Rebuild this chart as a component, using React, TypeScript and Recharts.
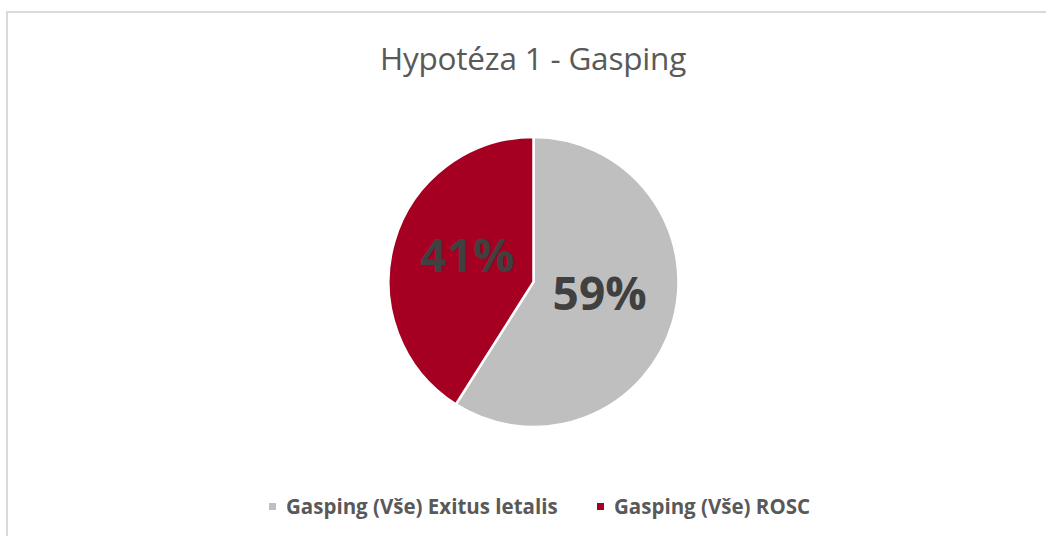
import React from 'react';
import { PieChart, Pie, Cell, Legend } from 'recharts';

const categories = ['Gasping (Vše) Exitus letalis', 'Gasping (Vše) ROSC'];
const values = [59, 41];
const colors = ['#bfbfbf', '#a50021'];
const title = 'Hypotéza 1 - Gasping';

const data = categories.map((name, i) => ({ name, value: values[i] }));

const RAD = Math.PI / 180;
const renderLabel = (props: any) => {
  const { cx, cy, midAngle, outerRadius, percent } = props;
  const r = outerRadius * 0.475;
  const x = cx + r * Math.cos(-midAngle * RAD);
  const y = cy + r * Math.sin(-midAngle * RAD) - 9;
  return (
    <text
      x={x}
      y={y}
      fill="#404040"
      textAnchor="middle"
      dominantBaseline="central"
      style={{ fontFamily: 'Open Sans', fontWeight: 700, fontSize: 46 }}
    >
      {`${Math.round(percent * 100)}%`}
    </text>
  );
};

const renderLegend = () => (
  <div style={{ display: 'flex', alignItems: 'center', fontFamily: 'Open Sans', fontWeight: 700, fontSize: 20.5, color: '#595959', lineHeight: '28px' }}>
    {data.map((d, i) => (
      <div key={d.name} style={{ position: 'absolute', left: i === 0 ? 269 : 597, top: 0, display: 'flex', alignItems: 'center', whiteSpace: 'nowrap' }}>
        <span style={{ display: 'inline-block', width: 7, height: 7, background: colors[i], marginRight: 10 }} />
        <span>{d.name}</span>
      </div>
    ))}
  </div>
);

export default function App() {
  return (
    <div style={{ position: 'absolute', left: 0, top: 0, width: 1046, height: 536, overflow: 'hidden', background: '#fff' }}>
      <div style={{ position: 'absolute', left: 6, top: 11, width: 1100, height: 600, border: '2px solid #d9d9d9', boxSizing: 'border-box' }} />
      <div style={{ position: 'absolute', left: 0, top: 36, width: 1066, textAlign: 'center', fontFamily: 'Open Sans', fontSize: 31.5, lineHeight: '44px', color: '#595959', letterSpacing: -0.2 }}>
        {title}
      </div>
      <div style={{ position: 'absolute', left: 0, top: 0 }}>
        <PieChart width={1046} height={536} margin={{ top: 0, right: 0, bottom: 0, left: 0 }}>
          <Pie
            data={data}
            dataKey="value"
            nameKey="name"
            cx={533.5}
            cy={282}
            outerRadius={145}
            startAngle={90}
            endAngle={-270}
            stroke="#ffffff"
            strokeWidth={2.5}
            label={renderLabel}
            labelLine={false}
            isAnimationActive={false}
          >
            {data.map((d, i) => (
              <Cell key={d.name} fill={colors[i]} />
            ))}
          </Pie>
          <Legend content={renderLegend} wrapperStyle={{ position: 'absolute', left: 0, width: 1046, height: 28, top: 492 }} />
        </PieChart>
      </div>
    </div>
  );
}
